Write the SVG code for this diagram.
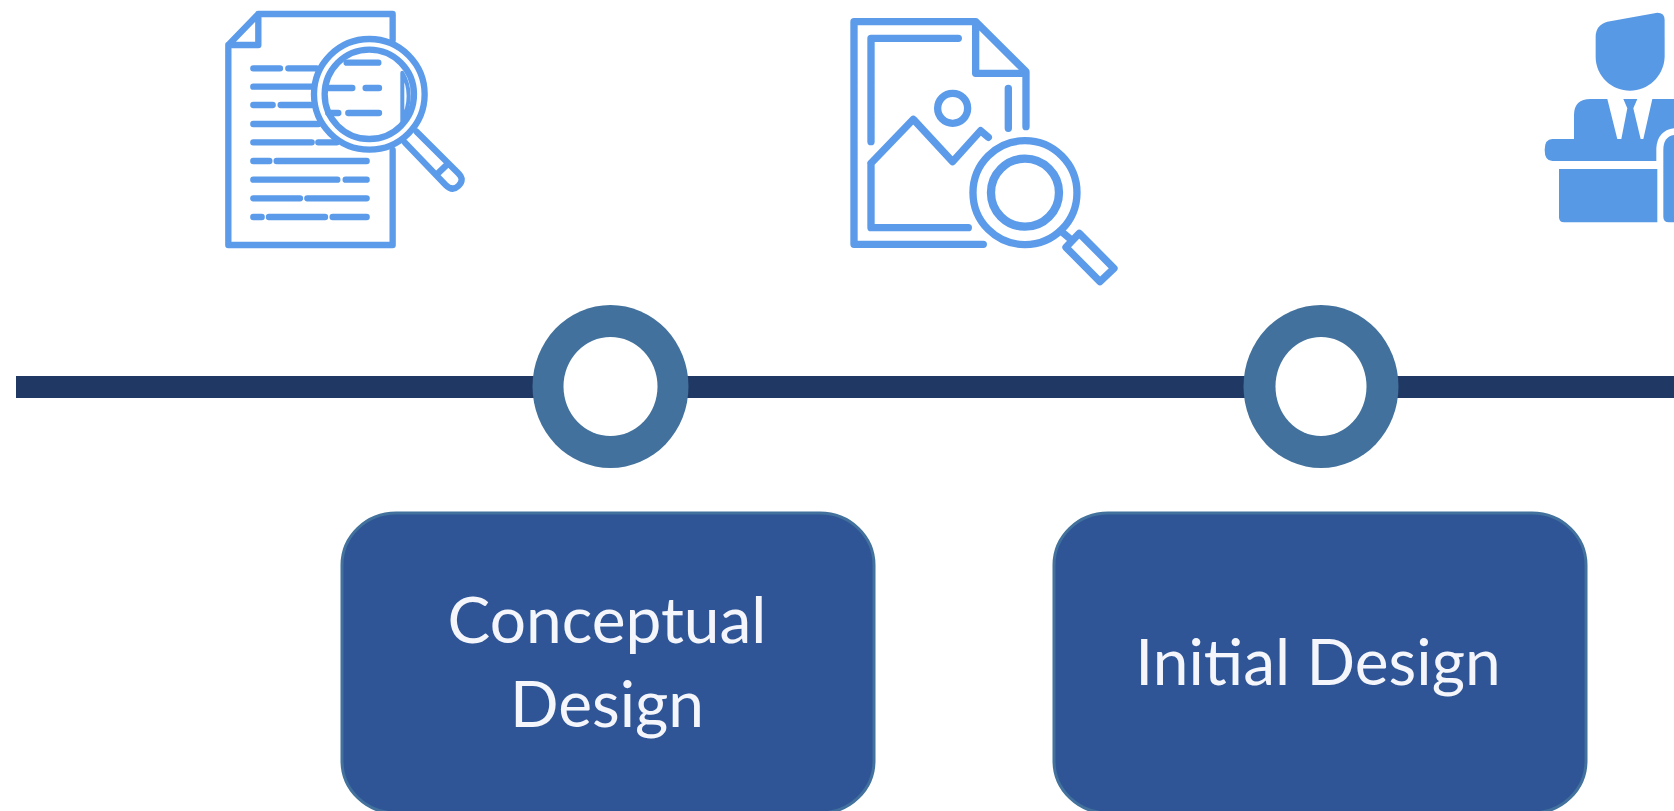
<svg xmlns="http://www.w3.org/2000/svg" width="1674" height="811" viewBox="0 0 1674 811">
<defs><filter id="soft" x="-5%" y="-5%" width="110%" height="110%"><feGaussianBlur stdDeviation="0.7"/></filter></defs>
<style>
.ic{fill:none;stroke:#5b9bea;stroke-linecap:round;stroke-linejoin:round}
.fl{fill:#5899e6;stroke:none}
.ring{fill:#41719c}
.hole{fill:#fff}
.box{fill:#2f5597;stroke:#41719c;stroke-width:3}
.lbl{font-family:"Lato","Liberation Sans",sans-serif;font-size:64px;fill:#f4f6fb;text-anchor:middle}
</style>
<rect width="1674" height="811" fill="#fff"/>
<g id="connectors"><rect x="16" y="376" width="1658" height="22" fill="#203864"/></g>
<g id="icon-document" transform="translate(200 0) scale(.3333)" filter="url(#soft)">
<g class="ic" stroke-width="19">
<path d="M578,120V42H175L85,135V735H578V450M175,42V135H85"/>
<path d="M160,205H240M265,205H350M160,260H335M160,315H218M242,315H335M160,372H355M160,427H335M355,427H410M160,483H208M230,483H500M160,539H412M437,539H500M160,595H300M322,595H500M160,651H185M207,651H375M398,651H500"/>
<circle cx="508" cy="283" r="166" fill="#fff"/>
<circle cx="508" cy="283" r="134"/>
<path d="M440,188H535M385,264H457M497,264H537M385,339H415M445,339H537"/>
<path d="M607,218Q645,285 607,362Z" stroke-width="12"/>
<path d="M650,395L775,520Q795,540 775,558Q757,575 737,555L615,428M738,497L716,518"/>
</g></g>
<g id="icon-image" transform="translate(830 0) scale(.3333)" filter="url(#soft)">
<g class="ic" stroke-width="22">
<path d="M460,733H72V65H437L588,215V380M437,65V220H588M385,115H123V425M123,490V683H415M123,490L250,358L368,485L452,392L475,412M535,265V385"/>
<circle cx="368" cy="325" r="45"/>
<circle cx="585" cy="578" r="156"/>
<circle cx="585" cy="578" r="102" stroke-width="25"/>
<path d="M697,697L722,718M748,700L852,805L810,845L708,742Z"/>
</g></g>
<g id="icon-presenter" transform="translate(1524 0) scale(.3333)" filter="url(#soft)">
<path class="fl" d="M215,110Q215,75 250,65L400,38Q422,38 422,60V170C420,230 370,272 318,272C265,272 215,230 215,170Z"/>
<path class="fl" d="M150,417V345Q150,297 200,297H250L280,417H292L310,325L298,297H340L328,325L350,417H358L385,297H450V385Q400,392 397,445V483H85Q62,483 62,450Q62,417 85,417Z"/>
<path class="fl" d="M105,507H400V667H120Q105,667 105,652Z"/>
<path class="fl" d="M450,405Q418,410 418,450V650Q418,667 435,667H450Z"/>
</g>
<g id="node-1"><ellipse class="ring" cx="610.5" cy="386.5" rx="78" ry="81.5"/><ellipse class="hole" cx="610.5" cy="386.5" rx="47" ry="49.5"/></g>
<g id="node-2"><ellipse class="ring" cx="1321" cy="386.5" rx="77.5" ry="81.5"/><ellipse class="hole" cx="1321" cy="386.5" rx="45.5" ry="49.5"/></g>
<g id="conceptual-design"><rect class="box" x="342" y="513" width="532" height="300" rx="54" ry="52"/><text class="lbl" x="607" y="643">Conceptual</text><text class="lbl" x="607" y="727">Design</text></g>
<g id="initial-design"><rect class="box" x="1054" y="513" width="532" height="300" rx="54" ry="52"/><text class="lbl" x="1318" y="685">Initial Design</text></g>
</svg>
